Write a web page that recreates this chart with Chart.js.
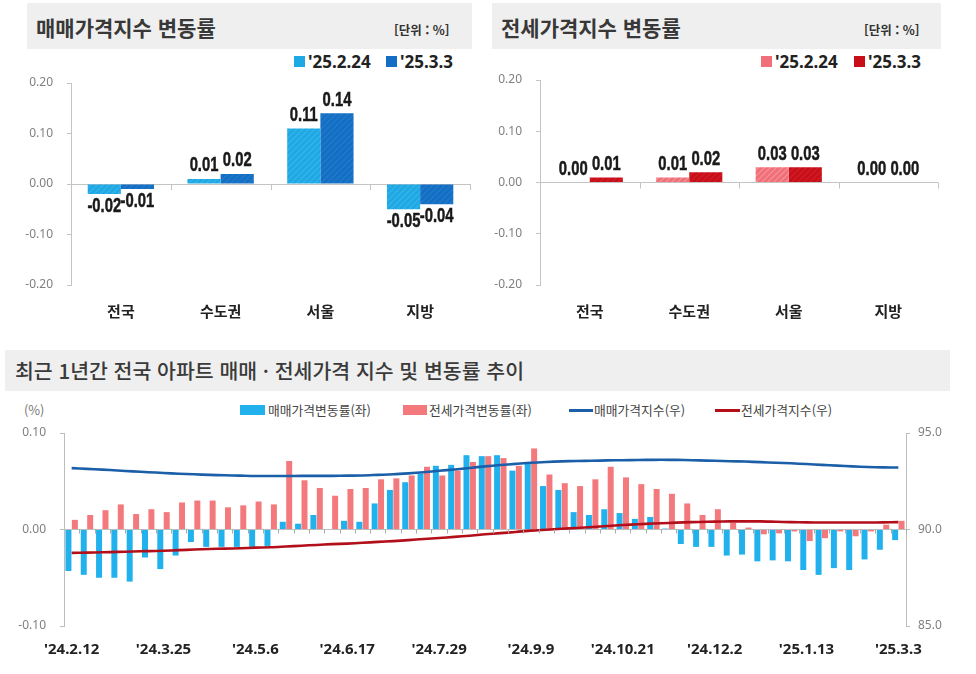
<!DOCTYPE html>
<html lang="ko">
<head>
<meta charset="utf-8">
<script src="https://cdn.jsdelivr.net/npm/chart.js@4.4.1/dist/chart.umd.min.js"></script>
<style>
  body { margin: 0; width: 976px; height: 674px; background: #fff; position: relative; overflow: hidden;
         font-family: "Noto Sans CJK KR", "Noto Sans", sans-serif; }
  .box { position: absolute; background: #efefef; }
  .ttl { position: absolute; font-weight: 700; color: #383838; font-size: 21px; white-space: nowrap; }
  .unit { position: absolute; font-weight: 700; font-size: 12.5px; color: #333; white-space: nowrap; }
  .leg { position: absolute; font-family: "Noto Sans", sans-serif; font-weight: 700; font-size: 17px; color: #222; white-space: nowrap; }
  .sw { position: absolute; }
  .leg2 { position: absolute; font-size: 12.8px; color: #444; white-space: nowrap; }
  canvas { position: absolute; }
</style>
</head>
<body>

<!-- 매매 -->
<div class="box" style="left:27px;top:3px;width:445px;height:46px"></div>
<div class="ttl" style="left:36px;top:4px;line-height:46px">매매가격지수 변동률</div>
<div class="unit" style="left:394px;top:21px;line-height:18px">[단위 : %]</div>
<span class="sw" style="left:294px;top:56px;width:11px;height:11px;background:#1ea8e4"></span>
<div class="leg" style="left:308px;top:51px;line-height:22px">'25.2.24</div>
<span class="sw" style="left:386px;top:56px;width:11px;height:11px;background:#146ec3"></span>
<div class="leg" style="left:400px;top:51px;line-height:22px">'25.3.3</div>
<canvas id="saleChart" width="480" height="282" style="left:0;top:48px"></canvas>

<!-- 전세 -->
<div class="box" style="left:492px;top:3px;width:449px;height:46px"></div>
<div class="ttl" style="left:501px;top:4px;line-height:46px">전세가격지수 변동률</div>
<div class="unit" style="left:864px;top:21px;line-height:18px">[단위 : %]</div>
<span class="sw" style="left:761px;top:56px;width:11px;height:11px;background:#f06f78"></span>
<div class="leg" style="left:775px;top:51px;line-height:22px">'25.2.24</div>
<span class="sw" style="left:854px;top:56px;width:11px;height:11px;background:#c80f19"></span>
<div class="leg" style="left:868px;top:51px;line-height:22px">'25.3.3</div>
<canvas id="jeonseChart" width="488" height="282" style="left:488px;top:48px"></canvas>

<!-- 추이 -->
<div class="box" style="left:5px;top:350px;width:945px;height:41px"></div>
<div class="ttl" style="left:15px;top:350px;line-height:41px;font-size:20.5px;font-weight:500;color:#3a3a3a">최근 1년간 전국 아파트 매매 · 전세가격 지수 및 변동률 추이</div>
<div class="leg2" style="left:24px;top:401px;line-height:18px;color:#777">(%)</div>
<span class="sw" style="left:240px;top:405px;width:25px;height:10px;background:#21b1ec"></span>
<div class="leg2" style="left:268px;top:401px;line-height:18px">매매가격변동률(좌)</div>
<span class="sw" style="left:403px;top:405px;width:24px;height:10px;background:#f3797d"></span>
<div class="leg2" style="left:429px;top:401px;line-height:18px">전세가격변동률(좌)</div>
<span class="sw" style="left:569px;top:409px;width:24px;height:3px;background:#1c5fa9"></span>
<div class="leg2" style="left:594px;top:401px;line-height:18px">매매가격지수(우)</div>
<span class="sw" style="left:715px;top:409px;width:25px;height:3px;background:#b30f1b"></span>
<div class="leg2" style="left:741px;top:401px;line-height:18px">전세가격지수(우)</div>
<canvas id="trendChart" width="976" height="279" style="left:0;top:395px"></canvas>

<script>
// ---------------- DATA ----------------
const regions = ['전국', '수도권', '서울', '지방'];
const weekNames = ["'25.2.24", "'25.3.3"];
const saleRatePrev = [-0.02, 0.01, 0.11, -0.05];
const saleRateCur = [-0.01, 0.02, 0.14, -0.04];
const jeonseRatePrev = [0.00, 0.01, 0.03, 0.00];
const jeonseRateCur = [0.01, 0.02, 0.03, 0.00];

const weeks = [
    "'24.2.12", "'24.2.19", "'24.2.26", "'24.3.4", "'24.3.11", "'24.3.18", "'24.3.25",
    "'24.4.1", "'24.4.8", "'24.4.15", "'24.4.22", "'24.4.29", "'24.5.6", "'24.5.13",
    "'24.5.20", "'24.5.27", "'24.6.3", "'24.6.10", "'24.6.17", "'24.6.24", "'24.7.1",
    "'24.7.8", "'24.7.15", "'24.7.22", "'24.7.29", "'24.8.5", "'24.8.12", "'24.8.19",
    "'24.8.26", "'24.9.2", "'24.9.9", "'24.9.16", "'24.9.23", "'24.9.30", "'24.10.7",
    "'24.10.14", "'24.10.21", "'24.10.28", "'24.11.4", "'24.11.11", "'24.11.18", "'24.11.25",
    "'24.12.2", "'24.12.9", "'24.12.16", "'24.12.23", "'24.12.30", "'25.1.6", "'25.1.13",
    "'25.1.20", "'25.2.3", "'25.2.10", "'25.2.17", "'25.2.24", "'25.3.3"
];
const saleRate = [
    -0.043, -0.047, -0.050, -0.050, -0.054, -0.029, -0.041, -0.027, -0.013, -0.018,
    -0.018, -0.018, -0.018, -0.017, 0.008, 0.006, 0.015, 0.000, 0.009, 0.008,
    0.027, 0.041, 0.049, 0.058, 0.066, 0.067, 0.077, 0.076, 0.077, 0.061,
    0.068, 0.045, 0.041, 0.018, 0.015, 0.021, 0.017, 0.011, 0.013, 0.001,
    -0.015, -0.018, -0.018, -0.027, -0.026, -0.033, -0.032, -0.033, -0.042, -0.047,
    -0.040, -0.042, -0.031, -0.021, -0.011
];
const jeonseRate = [
    0.010, 0.015, 0.020, 0.026, 0.016, 0.021, 0.018, 0.028, 0.030, 0.030,
    0.023, 0.025, 0.029, 0.026, 0.071, 0.051, 0.043, 0.035, 0.042, 0.043,
    0.052, 0.053, 0.056, 0.065, 0.056, 0.061, 0.070, 0.076, 0.074, 0.066,
    0.084, 0.057, 0.048, 0.045, 0.052, 0.065, 0.054, 0.047, 0.042, 0.037,
    0.027, 0.015, 0.021, 0.007, 0.002, -0.005, -0.004, -0.002, -0.012, -0.009,
    -0.002, -0.007, -0.002, 0.005, 0.009
];
const saleIndex = [
    93.18, 93.14, 93.10, 93.06, 93.01, 92.97, 92.93, 92.89, 92.86, 92.83,
    92.81, 92.79, 92.77, 92.77, 92.77, 92.78, 92.78, 92.78, 92.79, 92.80,
    92.83, 92.86, 92.91, 92.97, 93.04, 93.11, 93.19, 93.27, 93.34, 93.40,
    93.46, 93.50, 93.53, 93.55, 93.56, 93.58, 93.59, 93.60, 93.61, 93.61,
    93.60, 93.58, 93.56, 93.54, 93.52, 93.49, 93.46, 93.43, 93.39, 93.35,
    93.31, 93.27, 93.24, 93.22, 93.21
];
const jeonseIndex = [
    88.79, 88.80, 88.82, 88.84, 88.86, 88.88, 88.90, 88.93, 88.96, 88.99,
    89.01, 89.03, 89.06, 89.08, 89.12, 89.16, 89.20, 89.24, 89.27, 89.31,
    89.36, 89.40, 89.45, 89.51, 89.56, 89.62, 89.68, 89.75, 89.81, 89.87,
    89.94, 89.99, 90.04, 90.08, 90.13, 90.18, 90.23, 90.27, 90.31, 90.34,
    90.37, 90.39, 90.41, 90.42, 90.42, 90.42, 90.40, 90.38, 90.37, 90.36,
    90.36, 90.36, 90.36, 90.37, 90.38
];
const labelEvery = 6;

// ---------------- HELPERS ----------------
function hatch(base, stripe) {
    const c = document.createElement('canvas');
    c.width = 6; c.height = 6;
    const g = c.getContext('2d');
    g.fillStyle = base;
    g.fillRect(0, 0, 6, 6);
    g.strokeStyle = stripe;
    g.lineWidth = 1.2;
    g.beginPath();
    g.moveTo(0, 6); g.lineTo(6, 0);
    g.moveTo(-1, 1); g.lineTo(1, -1);
    g.moveTo(5, 7); g.lineTo(7, 5);
    g.stroke();
    return g.createPattern(c, 'repeat');
}

const isZero = v => Math.abs(v) < 1e-9;

// value labels above / below bars, drawn horizontally squeezed like a condensed face
const valueLabels = {
    id: 'valueLabels',
    afterDatasetsDraw(chart) {
        const ctx = chart.ctx;
        ctx.save();
        ctx.font = 'bold 20px "Liberation Sans", "Noto Sans", sans-serif';
        ctx.fillStyle = '#1a1a1a';
        ctx.strokeStyle = '#1a1a1a';
        ctx.lineWidth = 0.5;
        ctx.textAlign = 'center';
        chart.data.datasets.forEach((ds, di) => {
            chart.getDatasetMeta(di).data.forEach((bar, i) => {
                const v = ds.data[i];
                const up = v >= 0;
                ctx.textBaseline = up ? 'bottom' : 'top';
                ctx.save();
                ctx.translate(bar.x, up ? bar.y - 3 : bar.y + 2);
                ctx.scale(0.74, 1);
                ctx.fillText(v.toFixed(2), 0, 0);
                ctx.strokeText(v.toFixed(2), 0, 0);
                ctx.restore();
            });
        });
        ctx.restore();
    }
};

// small category ticks hanging from the zero line
const zeroTicks = {
    id: 'zeroTicks',
    afterDatasetsDraw(chart, args, opts) {
        const xs = chart.scales.x;
        const y0 = chart.scales.y.getPixelForValue(0);
        const n = chart.data.labels.length;
        const ctx = chart.ctx;
        ctx.save();
        ctx.strokeStyle = opts.color || '#bbb';
        ctx.lineWidth = 1;
        ctx.beginPath();
        for (let i = 1; i <= n; i++) {
            const px = Math.round(xs.getPixelForValue(i - 0.5)) + 0.5;
            ctx.moveTo(px, y0);
            ctx.lineTo(px, y0 + (opts.len || 5));
        }
        ctx.stroke();
        ctx.restore();
    }
};

// ---------------- RATE CHARTS ----------------
function rateChart(id, prev, cur, fills, axisW, padR, padT) {
    return new Chart(document.getElementById(id), {
        type: 'bar',
        data: {
            labels: regions,
            datasets: [
                { label: weekNames[0], data: prev, backgroundColor: fills[0],
                  categoryPercentage: 0.665, barPercentage: 1.0 },
                { label: weekNames[1], data: cur, backgroundColor: fills[1],
                  categoryPercentage: 0.665, barPercentage: 1.0 }
            ]
        },
        options: {
            responsive: false,
            animation: false,
            layout: { padding: { top: padT, right: padR, left: 0, bottom: 0 } },
            plugins: {
                legend: { display: false },
                tooltip: { enabled: false },
                zeroTicks: { color: '#c4c4c4', len: 6 }
            },
            scales: {
                x: {
                    grid: { display: false, drawTicks: false },
                    border: { display: false },
                    ticks: {
                        color: '#222',
                        padding: 17,
                        font: { family: '"Noto Sans CJK KR", sans-serif', size: 15, weight: 'bold' }
                    },
                    afterFit(s) { s.height = 45; }
                },
                y: {
                    min: -0.2, max: 0.2,
                    ticks: {
                        stepSize: 0.1,
                        color: '#808080',
                        padding: 14,
                        font: { family: '"Noto Sans", sans-serif', size: 12 },
                        callback: v => v.toFixed(2)
                    },
                    grid: {
                        color: c => isZero(c.tick.value) ? '#c4c4c4' : 'transparent',
                        tickColor: '#c4c4c4',
                        tickLength: 4
                    },
                    border: { display: true, color: '#c4c4c4' },
                    afterFit(s) { s.width = axisW; }
                }
            }
        },
        plugins: [valueLabels, zeroTicks]
    });
}

rateChart('saleChart', saleRatePrev, saleRateCur,
    [hatch('#1ea8e4', '#3ab4ea'), hatch('#146ec3', '#237ccd')], 71, 10, 35);
rateChart('jeonseChart', jeonseRatePrev, jeonseRateCur,
    [hatch('#f06f78', '#f6959b'), hatch('#c80f19', '#d22029')], 52, 38, 32);

// ---------------- TREND CHART ----------------
new Chart(document.getElementById('trendChart'), {
    data: {
        labels: weeks,
        datasets: [
            { type: 'line', label: '매매가격지수(우)', data: saleIndex, yAxisID: 'y1',
              borderColor: '#1c5fa9', borderWidth: 2.6, pointRadius: 0, tension: 0.3, order: 0 },
            { type: 'line', label: '전세가격지수(우)', data: jeonseIndex, yAxisID: 'y1',
              borderColor: '#b30f1b', borderWidth: 2.6, pointRadius: 0, tension: 0.3, order: 0 },
            { type: 'bar', label: '매매가격변동률(좌)', data: saleRate, yAxisID: 'y',
              backgroundColor: '#21b1ec', categoryPercentage: 0.84, barPercentage: 0.93, order: 1 },
            { type: 'bar', label: '전세가격변동률(좌)', data: jeonseRate, yAxisID: 'y',
              backgroundColor: '#f3797d', categoryPercentage: 0.84, barPercentage: 0.93, order: 1 }
        ]
    },
    options: {
        responsive: false,
        animation: false,
        layout: { padding: { top: 38, right: 0, left: 0, bottom: 0 } },
        plugins: {
            legend: { display: false },
            tooltip: { enabled: false },
            zeroTicks: { color: '#aaa', len: 4 }
        },
        scales: {
            x: {
                offset: true,
                grid: { display: false, drawTicks: false },
                border: { display: false },
                ticks: {
                    autoSkip: false,
                    maxRotation: 0,
                    color: '#222',
                    padding: 15,
                    font: { family: '"Noto Sans", sans-serif', size: 15, weight: 'bold' },
                    callback: function (v, i) { return i % labelEvery === 0 ? this.getLabelForValue(v) : ''; }
                },
                afterFit(s) { s.height = 48; }
            },
            y: {
                position: 'left',
                min: -0.1, max: 0.1,
                ticks: {
                    stepSize: 0.1,
                    color: '#808080',
                    padding: 14,
                    font: { family: '"Noto Sans", sans-serif', size: 12 },
                    callback: v => v.toFixed(2)
                },
                grid: {
                    color: c => isZero(c.tick.value) ? '#bdbdbd' : 'transparent',
                    tickColor: '#bdbdbd',
                    tickLength: 4
                },
                border: { display: true, color: '#bdbdbd' },
                afterFit(s) { s.width = 64; }
            },
            y1: {
                position: 'right',
                min: 85, max: 95,
                ticks: {
                    stepSize: 5,
                    color: '#808080',
                    padding: 8,
                    font: { family: '"Noto Sans", sans-serif', size: 12 },
                    callback: v => v.toFixed(1)
                },
                grid: { drawOnChartArea: false, tickColor: '#bdbdbd', tickLength: 4 },
                border: { display: true, color: '#bdbdbd' },
                afterFit(s) { s.width = 70; }
            }
        }
    },
    plugins: [zeroTicks]
});
</script>
</body>
</html>
